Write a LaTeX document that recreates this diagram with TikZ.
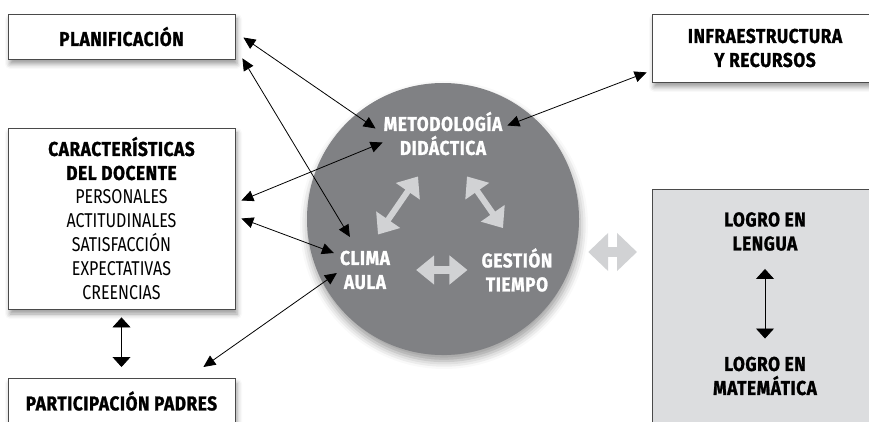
\documentclass[tikz,border=0pt]{standalone}
\usepackage{fontspec}
\setmainfont{Fira Sans}[FakeStretch=0.8, BoldFeatures={FakeStretch=0.86, LetterSpace=3, FakeBold=1.2}]
\usetikzlibrary{arrows.meta,shadows.blur,positioning}
\definecolor{circgray}{HTML}{808184}
\definecolor{softgray}{HTML}{D1D2D4}
\definecolor{logrogray}{HTML}{DCDDDF}
\definecolor{framegray}{HTML}{4A4A4A}

\begin{document}
\begin{tikzpicture}[x=1pt,y=1pt,
    caja/.style={draw=framegray, line width=0.8pt, fill=white, minimum width=227pt,
      align=center, font=\fontsize{20}{24}\selectfont,
      blur shadow={shadow xshift=2pt, shadow yshift=-5pt, shadow blur radius=5pt}},
    etiqueta/.style={font=\fontsize{20}{24}\selectfont\bfseries, align=center, inner sep=0pt},
    flecha/.style={line width=0.8pt, {Triangle[length=12pt,width=11pt]}-{Triangle[length=12pt,width=11pt]}},
    gruesa/.style={softgray, line width=8pt, {Triangle[length=18pt,width=28pt]}-{Triangle[length=18pt,width=28pt]}}]
  \useasboundingbox (0,0) rectangle (869,421);

  % boxes on the left
  \node[caja, minimum height=45pt, font=\fontsize{20}{24}\selectfont\bfseries] (plan) at (121.5,384.5) {PLANIFICACIÓN};
  \node[caja, minimum height=181pt] (docente) at (121.5,202.5)
    {{\bfseries CARACTERÍSTICAS}\\{\bfseries DEL DOCENTE}\\PERSONALES\\ACTITUDINALES\\SATISFACCIÓN\\EXPECTATIVAS\\CREENCIAS};
  \node[caja, anchor=north, text height=14pt, text depth=40pt, inner ysep=18pt,
    font=\fontsize{20}{24}\selectfont\bfseries] (padres) at (121.5,43) {PARTICIPACIÓN PADRES};

  % boxes on the right
  \node[caja, minimum width=226pt, minimum height=68pt, font=\fontsize{20}{24}\selectfont\bfseries] (infra) at (765,373)
    {INFRAESTRUCTURA\\Y RECURSOS};
  \node[caja, fill=logrogray, minimum width=226pt, anchor=north west, minimum height=260pt, blur shadow={shadow opacity=0}] (logro) at (652,232) {};
  \node[etiqueta] (lengua) at (765,189.5) {LOGRO EN\\LENGUA};
  \node[etiqueta] (mate) at (765,45) {LOGRO EN\\MATEMÁTICA};

  % central circle
  \node[circle, fill=circgray, minimum size=272pt,
    blur shadow={shadow xshift=1pt, shadow yshift=-6pt, shadow blur radius=8pt}] (nucleo) at (443,202) {};
  \node[etiqueta, text=white] (metod) at (443,287.5) {METODOLOGÍA\\DIDÁCTICA};
  \node[etiqueta, text=white] (clima) at (365,151) {CLIMA\\AULA};
  \node[etiqueta, text=white] (gestion) at (517,151) {GESTIÓN\\TIEMPO};

  % light arrows
  \draw[gruesa] ([xshift=26pt]clima.east) -- ([xshift=-14pt]gestion.west);
  \draw[gruesa, line width=6pt] ([xshift=13pt,yshift=16pt]clima.north) -- ([xshift=-25pt,yshift=-21pt]metod.south);
  \draw[gruesa, line width=6pt] ([xshift=24pt,yshift=-21pt]metod.south) -- ([xshift=-14pt,yshift=20pt]gestion.north);
  \draw[gruesa, line width=10pt, {Triangle[length=20pt,width=37pt]}-{Triangle[length=20pt,width=37pt]}]
    ([xshift=9pt,yshift=-33pt]nucleo.east) -- ([xshift=-15pt,yshift=-63pt]logro.north west);

  % black arrows
  \draw[flecha] ([xshift=8pt,yshift=-1pt]plan.east) -- ([xshift=-8pt,yshift=5pt]metod.west);
  \draw[flecha] ([xshift=7pt,yshift=1pt]plan.south east) -- ([xshift=10pt,yshift=33pt]clima.west);
  \draw[flecha] ([xshift=6pt,yshift=18pt]docente.east) -- ([xshift=-1pt,yshift=-9pt]metod.west);
  \draw[flecha] ([xshift=6pt]docente.east) -- ([xshift=-6pt,yshift=17pt]clima.west);
  \draw[flecha] ([xshift=-32pt,yshift=11pt]padres.north east) -- ([xshift=-3pt,yshift=-3pt]clima.west);
  \draw[flecha] ([xshift=-5pt,yshift=10pt]infra.south west) -- ([xshift=5pt,yshift=8pt]metod.east);
  \draw[flecha, {Triangle[length=10pt,width=18pt]}-{Triangle[length=10pt,width=18pt]}] ([yshift=-8pt]docente.south) -- ([yshift=11pt]padres.north);
  \draw[flecha, {Triangle[length=10pt,width=18pt]}-{Triangle[length=10pt,width=18pt]}] ([yshift=-18pt]lengua.south) -- ([yshift=18pt]mate.north);
\end{tikzpicture}
\end{document}
